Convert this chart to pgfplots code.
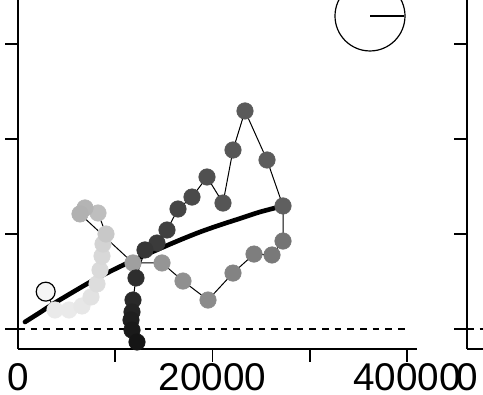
\documentclass[border=0pt]{standalone}
\usepackage{pgfplots}
\usepackage{pgfplotstable}
\pgfplotsset{compat=1.18}
\usepackage{fontspec}
\setmainfont{Liberation Sans}

\pgfplotstableread{
x y c
2848 0.393 0.97
3805 0.200 0.91
5244 0.200 0.91
6581 0.242 0.90
7507 0.337 0.88
8124 0.474 0.86
8432 0.621 0.85
8638 0.768 0.84
8741 0.895 0.82
9049 1.000 0.78
8226 1.221 0.74
6890 1.274 0.70
6375 1.211 0.69
11825 0.695 0.62
14808 0.695 0.58
16967 0.505 0.56
19538 0.305 0.54
22108 0.589 0.51
24268 0.789 0.49
26119 0.779 0.47
27250 0.926 0.45
27250 1.295 0.37
25605 1.779 0.36
23342 2.295 0.35
22108 1.884 0.34
21080 1.326 0.33
19435 1.600 0.31
17892 1.389 0.29
16453 1.263 0.27
15322 1.042 0.25
14293 0.905 0.23
13059 0.832 0.21
12134 0.537 0.18
11825 0.305 0.16
11723 0.179 0.14
11620 0.095 0.12
11723 -0.011 0.10
12237 -0.137 0.08
}\trail

\pgfplotsset{panel/.style={
  scale only axis, width=299.25pt, height=276.75pt,
  xmin=0, xmax=41028, ymin=-0.2105, ymax=3.6737,
  axis x line*=bottom, axis y line*=left,
  axis line style={line width=1.2pt},
  tick align=outside, major tick length=9.5pt,
  tick style={line width=1.2pt, black},
  xtick={10000,20000,30000,40000}, xticklabels={,20000,,40000},
  extra x ticks={0}, extra x tick labels={0},
  extra x tick style={major tick style={draw=none}},
  ytick={0,1,2,3}, yticklabels={,,,,},
  xticklabel style={font=\fontsize{29}{29}\selectfont, inner sep=0pt, yshift=-1.5pt},
  clip=false,
  colormap={graylin}{gray(0cm)=(0); gray(1cm)=(1)},
  point meta min=0, point meta max=1,
}}

\begin{document}
\begin{tikzpicture}
\useasboundingbox (0,0) rectangle (362.25pt,296.25pt);
\clip (0,0) rectangle (362.25pt,296.25pt);
\begin{axis}[panel, at={(13.5pt,34.5pt)}, anchor=south west]
\addplot[black, line width=1pt, dash pattern=on 5pt off 4.5pt] coordinates {(0,0) (40300,0)};
\addplot[only marks, mark=*, mark size=7.1pt, mark options={draw=black, fill=white!96!black, line width=0.9pt}] coordinates {(2848,0.393)};
\addplot[scatter, only marks, mark=*, mark size=6.2pt, point meta=explicit,
  scatter/use mapped color={draw=mapped color, fill=mapped color},
  skip coords between index={0}{1}] table[x=x, y=y, meta=c] {\trail};
\addplot[black, line width=0.75pt, no marks] table[x=x, y=y] {\trail};
\addplot[black, line width=3.5pt, line cap=round, no marks, smooth] coordinates {
(720,0.074) (2262,0.174) (3599,0.263) (5656,0.389) (7712,0.511) (9769,0.621)
(11825,0.721) (14602,0.847) (16658,0.937) (18715,1.021) (20771,1.095)
(22828,1.163) (24885,1.232) (27250,1.295)};
\draw[line width=0.9pt] (axis cs:36195,3.295) circle[radius=26.25pt];
\draw[line width=1.6pt] (axis cs:36195,3.295) -- (axis cs:39691,3.295);
\end{axis}
\begin{axis}[panel, at={(350.25pt,34.5pt)}, anchor=south west]
\addplot[black, line width=1pt, dash pattern=on 5pt off 4.5pt] coordinates {(0,0) (40300,0)};
\end{axis}
\end{tikzpicture}
\end{document}
